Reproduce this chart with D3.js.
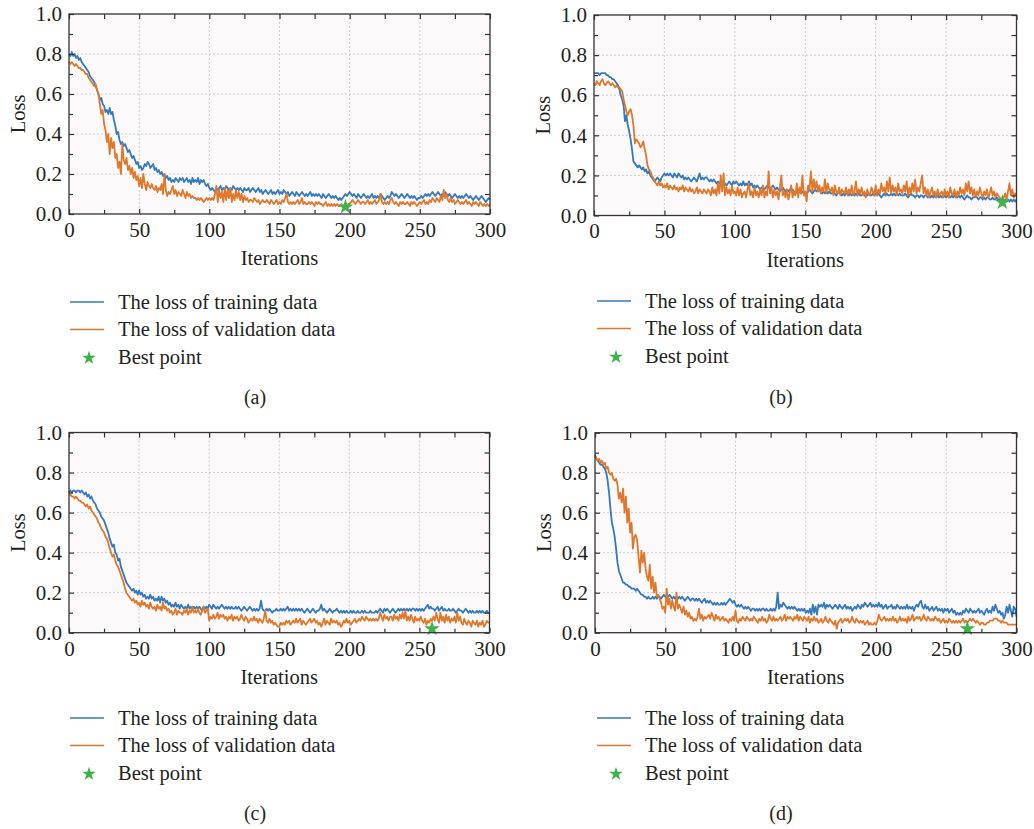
<!DOCTYPE html>
<html><head><meta charset="utf-8">
<script src="https://cdn.jsdelivr.net/npm/d3@7"></script>
<style>
body{margin:0;background:#fff}
svg{display:block}
svg text{font-family:"Liberation Serif","DejaVu Serif",serif !important;fill:#231f20}
</style>
</head><body><svg id="chart" width="1034" height="829"></svg>
<script>
const xTicks=[0,50,100,150,200,250,300];
const yTicks=[0.0,0.2,0.4,0.6,0.8,1.0];
const panelLabels=["(a)","(b)","(c)","(d)"];
const legendLabels=["The loss of training data","The loss of validation data","Best point"];
const xTitle="Iterations";
const yTitle="Loss";

const trainA=[.80,.79,.81,.79,.80,.78,.79,.77,.78,.76,
.75,.74,.73,.72,.71,.69,.68,.67,.66,.64,
.62,.60,.57,.58,.55,.54,.51,.52,.50,.53,
.50,.51,.47,.44,.40,.41,.37,.35,.36,.34,
.35,.33,.31,.32,.30,.28,.29,.27,.25,.26,
.23,.24,.22,.23,.25,.24,.26,.25,.23,.24,
.25,.22,.23,.21,.22,.20,.21,.19,.20,.18,
.19,.17,.18,.16,.17,.16,.18,.17,.16,.18,
.17,.18,.16,.17,.18,.16,.17,.15,.18,.16,
.17,.16,.18,.15,.17,.16,.17,.15,.14,.15,
.13,.12,.13,.12,.11,.13,.12,.13,.14,.12,
.13,.12,.14,.13,.12,.13,.12,.14,.13,.12,
.13,.12,.13,.12,.11,.13,.12,.12,.13,.11,
.12,.13,.12,.11,.12,.13,.11,.12,.10,.11,
.12,.11,.10,.11,.12,.10,.11,.10,.11,.12,
.10,.11,.10,.12,.11,.10,.11,.09,.10,.11,
.10,.09,.11,.10,.09,.10,.11,.10,.09,.10,
.09,.10,.11,.09,.10,.09,.10,.09,.10,.09,
.08,.10,.09,.08,.09,.10,.09,.08,.09,.08,
.09,.08,.07,.08,.07,.08,.09,.10,.09,.10,
.11,.10,.09,.10,.09,.08,.10,.09,.08,.09,
.10,.09,.08,.09,.08,.09,.10,.08,.09,.08,
.09,.08,.10,.09,.08,.07,.08,.09,.08,.09,
.11,.10,.09,.10,.09,.08,.09,.10,.09,.08,
.09,.10,.09,.08,.09,.08,.09,.08,.07,.08,
.08,.09,.08,.09,.10,.09,.10,.09,.10,.11,
.10,.09,.10,.11,.10,.09,.10,.09,.11,.10,
.09,.10,.09,.08,.09,.10,.09,.08,.09,.08,
.09,.08,.09,.10,.09,.08,.09,.08,.07,.08,
.09,.08,.07,.08,.09,.08,.07,.06,.07,.08,
.07];
const valA=[.76,.75,.76,.75,.74,.75,.74,.73,.73,.72,
.72,.71,.70,.70,.68,.67,.66,.65,.64,.65,
.62,.60,.55,.50,.52,.45,.42,.36,.40,.30,
.38,.33,.36,.28,.30,.23,.26,.20,.35,.27,
.25,.28,.22,.24,.20,.23,.18,.21,.17,.19,
.14,.18,.13,.20,.15,.12,.16,.14,.13,.15,
.13,.12,.14,.11,.13,.12,.15,.10,.20,.12,
.09,.11,.10,.12,.14,.10,.12,.09,.11,.10,
.09,.12,.10,.08,.11,.09,.10,.08,.09,.08,
.08,.07,.08,.07,.08,.07,.06,.07,.08,.07,
.08,.07,.08,.07,.10,.14,.06,.12,.08,.11,
.06,.13,.07,.12,.08,.13,.06,.10,.07,.12,
.08,.11,.07,.10,.06,.09,.07,.08,.06,.07,
.07,.06,.08,.07,.06,.07,.05,.06,.07,.06,
.06,.07,.06,.05,.07,.06,.05,.06,.07,.05,
.06,.05,.07,.06,.08,.10,.06,.05,.06,.05,
.06,.05,.06,.07,.05,.06,.08,.05,.06,.05,
.05,.06,.05,.06,.05,.04,.06,.05,.06,.05,
.05,.04,.05,.06,.04,.05,.04,.05,.04,.05,
.04,.05,.04,.04,.05,.04,.04,.035,.04,.05,
.05,.06,.07,.06,.05,.06,.07,.06,.05,.06,
.06,.05,.06,.07,.05,.06,.05,.06,.07,.05,
.06,.07,.10,.06,.05,.06,.05,.06,.05,.07,
.08,.06,.05,.06,.05,.04,.06,.05,.06,.05,
.05,.06,.05,.04,.06,.05,.06,.05,.04,.05,
.06,.05,.06,.07,.05,.06,.05,.07,.06,.08,
.07,.06,.08,.07,.06,.09,.07,.12,.08,.10,
.07,.06,.08,.06,.07,.05,.06,.07,.06,.05,
.06,.05,.06,.07,.05,.06,.05,.04,.06,.05,
.06,.05,.04,.06,.05,.04,.05,.04,.05,.04,
.05];
const trainB=[.71,.71,.71,.71,.70,.71,.71,.71,.71,.70,
.70,.69,.69,.68,.68,.67,.66,.65,.63,.60,
.58,.55,.47,.50,.45,.42,.38,.33,.27,.26,
.25,.24,.25,.24,.23,.24,.22,.23,.21,.22,
.20,.19,.18,.17,.18,.19,.18,.17,.19,.20,
.21,.20,.21,.20,.21,.20,.19,.21,.20,.19,
.21,.20,.19,.20,.18,.19,.18,.19,.18,.17,
.18,.19,.18,.17,.19,.21,.18,.19,.18,.19,
.19,.18,.17,.18,.17,.18,.17,.16,.17,.16,
.17,.16,.17,.16,.15,.16,.17,.16,.15,.17,
.16,.17,.16,.15,.16,.15,.17,.15,.16,.15,
.17,.15,.16,.14,.15,.14,.15,.14,.13,.14,
.14,.13,.14,.15,.14,.13,.14,.15,.14,.13,
.14,.13,.12,.13,.14,.13,.12,.13,.12,.13,
.12,.13,.12,.11,.12,.13,.12,.11,.12,.11,
.12,.11,.12,.13,.12,.11,.12,.13,.12,.12,
.13,.12,.11,.12,.11,.12,.11,.12,.11,.11,
.12,.11,.10,.11,.12,.11,.10,.11,.10,.11,
.11,.10,.11,.10,.11,.10,.11,.10,.11,.10,
.10,.11,.10,.11,.10,.11,.10,.10,.11,.10,
.11,.10,.11,.10,.09,.10,.11,.10,.11,.10,
.10,.11,.10,.11,.10,.11,.10,.11,.10,.10,
.10,.11,.10,.09,.10,.11,.10,.10,.09,.10,
.10,.09,.10,.10,.09,.10,.10,.09,.10,.09,
.10,.09,.10,.09,.10,.09,.10,.09,.09,.10,
.09,.10,.09,.09,.10,.09,.10,.09,.09,.10,
.09,.10,.09,.08,.09,.10,.09,.09,.08,.09,
.09,.10,.09,.08,.09,.09,.08,.09,.08,.09,
.09,.08,.08,.09,.08,.08,.09,.08,.08,.07,
.08,.07,.08,.07,.08,.07,.08,.07,.08,.07,
.08];
const valB=[.66,.65,.67,.66,.65,.67,.68,.66,.65,.66,
.67,.66,.65,.66,.65,.64,.65,.64,.64,.63,
.62,.58,.55,.52,.50,.52,.53,.50,.45,.36,
.38,.37,.36,.34,.35,.37,.33,.30,.25,.23,
.22,.20,.19,.17,.16,.15,.17,.15,.16,.14,
.15,.14,.16,.13,.15,.14,.13,.15,.13,.14,
.12,.14,.13,.15,.12,.14,.13,.12,.14,.12,
.13,.11,.12,.14,.11,.13,.12,.11,.13,.12,
.11,.13,.12,.10,.14,.11,.13,.10,.16,.11,
.20,.12,.21,.10,.14,.11,.13,.10,.15,.11,
.12,.10,.14,.10,.13,.09,.11,.12,.09,.13,
.16,.10,.12,.09,.14,.10,.12,.09,.13,.10,
.15,.09,.12,.10,.22,.11,.14,.09,.13,.10,
.12,.08,.14,.20,.10,.12,.09,.13,.08,.11,
.15,.09,.12,.10,.16,.09,.14,.11,.20,.10,
.12,.07,.15,.13,.22,.12,.18,.13,.17,.12,
.15,.11,.14,.12,.18,.11,.16,.13,.12,.14,
.10,.15,.12,.11,.14,.10,.13,.12,.11,.14,
.10,.13,.11,.15,.10,.12,.17,.10,.13,.11,
.14,.10,.12,.09,.13,.11,.10,.14,.12,.10,
.15,.10,.13,.11,.16,.12,.14,.11,.17,.12,
.19,.11,.15,.12,.14,.10,.16,.12,.13,.11,
.15,.12,.17,.10,.14,.11,.16,.12,.18,.11,
.14,.12,.16,.20,.11,.14,.10,.13,.09,.12,
.14,.10,.12,.09,.13,.10,.11,.12,.09,.13,
.10,.12,.09,.14,.11,.10,.13,.09,.12,.10,
.14,.11,.13,.10,.16,.12,.17,.11,.14,.10,
.13,.09,.12,.10,.14,.11,.09,.12,.10,.13,
.09,.11,.14,.10,.12,.09,.11,.10,.09,.08,
.07,.09,.11,.08,.12,.16,.10,.13,.09,.11,
.10];
const trainC=[.70,.71,.70,.71,.71,.70,.71,.71,.70,.71,
.70,.69,.70,.68,.69,.67,.68,.66,.65,.64,
.62,.61,.60,.58,.57,.56,.54,.52,.50,.47,
.45,.43,.44,.40,.39,.36,.37,.33,.31,.29,
.27,.25,.24,.23,.22,.21,.22,.20,.21,.19,
.21,.19,.20,.18,.19,.17,.18,.17,.19,.17,
.18,.16,.17,.16,.18,.15,.18,.16,.17,.15,
.16,.14,.15,.13,.14,.13,.15,.13,.14,.12,
.14,.13,.12,.13,.12,.14,.12,.13,.12,.13,
.12,.13,.12,.13,.12,.11,.13,.12,.13,.12,
.14,.13,.12,.14,.13,.12,.13,.12,.13,.14,
.13,.12,.13,.12,.13,.12,.13,.12,.12,.13,
.12,.13,.12,.11,.12,.13,.12,.11,.12,.13,
.12,.11,.12,.11,.12,.11,.12,.16,.12,.11,
.11,.12,.11,.12,.11,.10,.11,.11,.12,.11,
.11,.12,.11,.12,.11,.12,.13,.11,.12,.11,
.12,.11,.12,.11,.12,.11,.12,.11,.10,.11,
.12,.11,.10,.11,.12,.11,.10,.11,.11,.12,
.14,.11,.12,.11,.10,.11,.12,.11,.10,.11,
.11,.12,.11,.10,.11,.10,.11,.10,.11,.10,
.10,.11,.10,.11,.10,.10,.11,.10,.10,.11,
.10,.11,.10,.10,.10,.11,.10,.10,.10,.11,
.10,.11,.12,.11,.10,.12,.11,.12,.11,.10,
.11,.12,.11,.10,.11,.12,.11,.12,.11,.12,
.11,.12,.11,.12,.11,.12,.12,.11,.12,.11,
.12,.11,.12,.11,.12,.13,.14,.12,.13,.12,
.12,.11,.12,.13,.11,.12,.13,.11,.12,.11,
.11,.12,.11,.11,.12,.11,.10,.11,.12,.11,
.11,.10,.11,.12,.11,.10,.11,.10,.11,.10,
.10,.11,.10,.11,.10,.11,.10,.10,.11,.10,
.10];
const valC=[.69,.69,.68,.68,.67,.68,.67,.66,.66,.65,
.65,.64,.63,.64,.62,.63,.61,.60,.59,.58,
.57,.55,.54,.52,.51,.50,.48,.47,.45,.42,
.40,.38,.39,.36,.34,.33,.31,.29,.27,.25,
.22,.20,.19,.18,.17,.16,.17,.15,.16,.14,
.15,.13,.16,.14,.15,.13,.14,.12,.15,.13,
.12,.13,.11,.14,.12,.13,.11,.15,.12,.13,
.11,.12,.10,.11,.09,.10,.12,.09,.11,.10,
.10,.09,.11,.10,.12,.09,.11,.10,.13,.10,
.11,.10,.12,.10,.09,.11,.13,.10,.11,.12,
.06,.08,.07,.09,.07,.08,.10,.07,.09,.08,
.09,.07,.08,.06,.08,.07,.09,.06,.08,.07,
.08,.06,.07,.09,.07,.06,.08,.07,.05,.06,
.07,.06,.08,.06,.07,.05,.07,.06,.05,.07,
.11,.06,.05,.07,.05,.06,.04,.05,.04,.03,
.03,.05,.04,.05,.04,.06,.05,.06,.04,.05,
.06,.05,.07,.05,.06,.07,.04,.06,.05,.04,
.05,.06,.07,.05,.06,.07,.05,.06,.04,.05,
.03,.05,.07,.04,.06,.05,.04,.07,.05,.06,
.05,.06,.04,.05,.03,.04,.06,.05,.07,.05,
.06,.04,.05,.06,.07,.05,.06,.07,.06,.08,
.07,.06,.08,.07,.06,.07,.06,.07,.06,.07,
.06,.07,.10,.08,.06,.09,.07,.08,.06,.08,
.08,.06,.09,.07,.08,.06,.09,.07,.10,.07,
.11,.06,.08,.06,.09,.07,.05,.08,.06,.07,
.06,.08,.06,.05,.07,.04,.06,.05,.07,.06,
.08,.06,.10,.07,.05,.10,.06,.08,.05,.09,
.06,.08,.05,.07,.06,.08,.05,.10,.06,.08,
.05,.04,.07,.05,.04,.06,.05,.03,.06,.05,
.04,.06,.03,.05,.04,.06,.03,.04,.06,.05,
.05];
const trainD=[.89,.87,.86,.85,.84,.84,.83,.82,.80,.76,
.70,.62,.55,.52,.48,.42,.35,.31,.29,.27,
.25,.25,.24,.24,.23,.23,.22,.22,.22,.21,
.22,.21,.20,.19,.19,.18,.18,.17,.18,.17,
.17,.18,.17,.18,.17,.18,.18,.17,.18,.19,
.18,.17,.18,.19,.18,.17,.18,.17,.18,.17,
.18,.17,.18,.17,.16,.17,.18,.17,.16,.17,
.17,.16,.17,.16,.17,.16,.15,.16,.17,.15,
.16,.15,.16,.15,.14,.15,.14,.15,.14,.14,
.15,.14,.15,.14,.15,.16,.17,.16,.15,.16,
.14,.13,.14,.13,.14,.13,.12,.13,.12,.13,
.12,.11,.12,.12,.11,.12,.11,.12,.11,.12,
.12,.11,.12,.11,.11,.12,.11,.12,.11,.13,
.20,.12,.14,.13,.15,.14,.13,.12,.13,.12,
.13,.12,.13,.12,.11,.12,.11,.12,.11,.12,
.10,.11,.10,.12,.09,.14,.10,.13,.09,.14,
.13,.14,.13,.15,.12,.14,.13,.14,.13,.12,
.13,.14,.13,.12,.14,.13,.12,.13,.14,.12,
.13,.12,.13,.11,.12,.13,.12,.14,.13,.12,
.14,.13,.15,.14,.13,.14,.15,.13,.14,.13,
.14,.13,.15,.13,.14,.12,.13,.14,.12,.13,
.13,.14,.12,.13,.12,.14,.13,.12,.13,.12,
.13,.12,.14,.12,.13,.12,.13,.11,.13,.14,
.13,.15,.16,.13,.12,.14,.12,.13,.11,.12,
.13,.11,.12,.13,.11,.12,.11,.12,.10,.12,
.11,.12,.10,.11,.12,.10,.11,.09,.10,.09,
.10,.09,.11,.10,.12,.11,.10,.12,.11,.10,
.11,.10,.11,.12,.10,.11,.10,.09,.11,.12,
.10,.11,.10,.13,.11,.14,.12,.10,.11,.09,
.10,.07,.09,.13,.10,.14,.11,.08,.13,.12,
.08];
const valD=[.88,.87,.86,.87,.85,.86,.84,.85,.82,.83,
.80,.79,.80,.77,.76,.77,.74,.67,.70,.65,
.72,.60,.68,.55,.62,.50,.55,.42,.48,.49,
.46,.38,.30,.41,.35,.40,.32,.28,.26,.34,
.22,.28,.20,.25,.18,.19,.17,.15,.12,.13,
.10,.22,.14,.17,.12,.16,.13,.11,.20,.12,
.14,.12,.10,.13,.09,.11,.08,.10,.07,.08,
.06,.07,.06,.08,.12,.07,.09,.06,.08,.07,
.08,.09,.07,.10,.08,.06,.09,.07,.08,.06,
.07,.08,.06,.07,.06,.05,.07,.06,.08,.06,
.11,.06,.05,.07,.06,.08,.07,.06,.08,.07,
.06,.07,.06,.08,.07,.06,.05,.07,.06,.08,
.06,.07,.05,.06,.09,.07,.06,.08,.06,.07,
.06,.07,.08,.06,.07,.09,.06,.08,.07,.08,
.07,.06,.08,.07,.09,.06,.08,.07,.06,.08,
.07,.06,.08,.05,.07,.06,.08,.06,.07,.05,
.06,.07,.05,.06,.08,.06,.05,.07,.06,.05,
.04,.06,.02,.05,.06,.07,.05,.06,.07,.06,
.07,.05,.06,.08,.06,.05,.07,.06,.05,.06,
.05,.06,.04,.05,.06,.04,.05,.04,.04,.05,
.04,.06,.09,.07,.06,.07,.08,.06,.07,.06,
.07,.06,.08,.06,.07,.05,.06,.08,.06,.07,
.06,.07,.05,.08,.06,.07,.09,.06,.07,.08,
.07,.08,.06,.07,.09,.07,.06,.08,.07,.06,
.07,.06,.08,.07,.06,.07,.05,.06,.07,.05,
.06,.05,.07,.06,.05,.06,.05,.06,.05,.06,
.05,.06,.07,.05,.06,.05,.06,.07,.06,.07,
.06,.05,.06,.05,.04,.05,.05,.04,.04,.05,
.05,.06,.06,.06,.07,.07,.07,.06,.06,.05,
.06,.05,.05,.05,.04,.04,.04,.04,.04,.04,
.04];
const bestIter=[197,290,259,265];
const bestLoss=[0.035,0.066,0.02,0.02];

const trainSeries=[trainA,trainB,trainC,trainD];
const valSeries=[valA,valB,valC,valD];

const colTrain="#3479bd", colVal="#e0782c", colBest="#3cb44b";
const FONT='"Liberation Serif","DejaVu Serif",serif';

const layouts=[
 {l:69,r:490,t:14,b:214, lx:70, ly:302, cx:255, cy:397},
 {l:594,r:1016.5,t:15,b:215.5, lx:597, ly:301, cx:781, cy:397},
 {l:69,r:489.5,t:432.5,b:632.7, lx:70, ly:718, cx:255, cy:813},
 {l:595,r:1016.5,t:432.7,b:632.7, lx:597, ly:718, cx:781, cy:813}
];

const svg=d3.select("#chart");
const star=d3.symbol().type(d3.symbolStar).size(75);

layouts.forEach((L,i)=>{
  const x=d3.scaleLinear().domain([0,300]).range([L.l,L.r]);
  const y=d3.scaleLinear().domain([0,1]).range([L.b,L.t]);
  const g=svg.append("g");
  g.append("rect").attr("x",L.l).attr("y",L.t).attr("width",L.r-L.l).attr("height",L.b-L.t).attr("fill","#fcf9fa");
  g.selectAll(".gx").data(xTicks.filter(v=>v>0&&v<300)).enter().append("line")
   .attr("x1",d=>x(d)).attr("x2",d=>x(d)).attr("y1",L.t).attr("y2",L.b)
   .attr("stroke","#c4c4c4").attr("stroke-width",0.8).attr("stroke-dasharray","2,2");
  g.selectAll(".gy").data(yTicks.filter(v=>v>0&&v<1)).enter().append("line")
   .attr("y1",d=>y(d)).attr("y2",d=>y(d)).attr("x1",L.l).attr("x2",L.r)
   .attr("stroke","#c4c4c4").attr("stroke-width",0.8).attr("stroke-dasharray","2,2");
  const line=d3.line().x((d,k)=>x(k)).y(d=>y(d));
  g.append("path").datum(trainSeries[i]).attr("d",line).attr("fill","none").attr("stroke",colTrain).attr("stroke-width",1.8).attr("stroke-linejoin","round");
  g.append("path").datum(valSeries[i]).attr("d",line).attr("fill","none").attr("stroke",colVal).attr("stroke-width",1.8).attr("stroke-linejoin","round");
  g.append("path").attr("d",star).attr("transform",`translate(${x(bestIter[i])},${y(bestLoss[i])})`).attr("fill",colBest);
  const minorX=d3.range(0,301,25).filter(v=>v%50!==0);
  const minorY=d3.range(1,10,2).map(v=>v/10);
  const styleAx=sel=>{sel.attr("font-family",FONT);sel.select(".domain").remove();sel.selectAll(".tick line").attr("stroke","#333").attr("stroke-width",1.2);sel.selectAll("text").attr("font-family",FONT).style("font-size","21px").attr("fill","#231f20");};
  g.append("g").attr("transform",`translate(0,${L.b})`).call(d3.axisBottom(x).tickValues(xTicks).tickSize(-5).tickPadding(8)).call(styleAx);
  g.append("g").attr("transform",`translate(0,${L.b})`).call(d3.axisBottom(x).tickValues(minorX).tickSize(-4).tickFormat("")).call(styleAx);
  g.append("g").attr("transform",`translate(0,${L.t})`).call(d3.axisTop(x).tickValues(d3.range(0,301,25)).tickSize(-5).tickFormat("")).call(styleAx);
  g.append("g").attr("transform",`translate(${L.l},0)`).call(d3.axisLeft(y).tickValues(yTicks).tickSize(-5).tickPadding(7).tickFormat(d3.format(".1f"))).call(styleAx);
  g.append("g").attr("transform",`translate(${L.l},0)`).call(d3.axisLeft(y).tickValues(minorY).tickSize(-4).tickFormat("")).call(styleAx);
  g.append("g").attr("transform",`translate(${L.r},0)`).call(d3.axisRight(y).tickValues(d3.range(0,11).map(v=>v/10)).tickSize(-5).tickFormat("")).call(styleAx);
  g.append("rect").attr("x",L.l).attr("y",L.t).attr("width",L.r-L.l).attr("height",L.b-L.t).attr("fill","none").attr("stroke","#333").attr("stroke-width",1.3);
  g.append("text").attr("x",(L.l+L.r)/2).attr("y",L.b+51).attr("text-anchor","middle").attr("font-family",FONT).style("font-size","20.5px").text(xTitle);
  g.append("text").attr("transform",`translate(${L.l-44},${(L.t+L.b)/2}) rotate(-90)`).attr("text-anchor","middle").attr("font-family",FONT).style("font-size","20.5px").text(yTitle);
  const rows=[0,27.5,55];
  [colTrain,colVal].forEach((c,k)=>{
    g.append("line").attr("x1",L.lx).attr("x2",L.lx+34).attr("y1",L.ly+rows[k]).attr("y2",L.ly+rows[k]).attr("stroke",c).attr("stroke-width",1.5);
  });
  g.append("path").attr("d",d3.symbol().type(d3.symbolStar).size(60)).attr("transform",`translate(${L.lx+19},${L.ly+rows[2]+1})`).attr("fill",colBest);
  legendLabels.forEach((t,k)=>{
    g.append("text").attr("x",L.lx+48).attr("y",L.ly+rows[k]).attr("dy","0.33em").attr("font-family",FONT).style("font-size","20.5px").text(t);
  });
  g.append("text").attr("x",L.cx).attr("y",L.cy).attr("dy","0.33em").attr("text-anchor","middle").attr("font-family",FONT).style("font-size","20px").text(panelLabels[i]);
});
</script>
</body></html>
